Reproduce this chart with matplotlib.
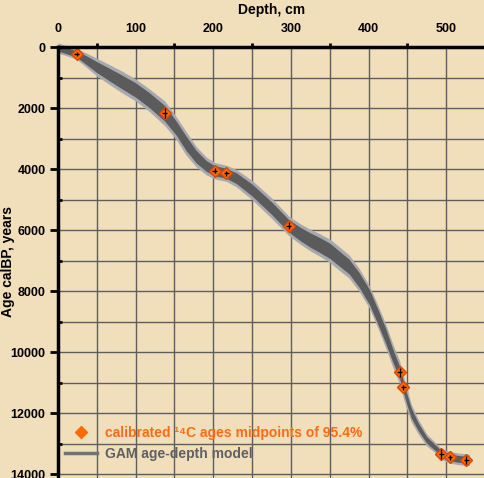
import numpy as np
import matplotlib
matplotlib.use("Agg")
from matplotlib import pyplot as plt
from matplotlib.lines import Line2D

plt.rcParams['font.family'] = ['Liberation Sans', 'DejaVu Sans']
plt.rcParams['font.weight'] = 'bold'

BG = '#f1debb'

# GAM age-depth model
model_depth = [0, 12, 24, 37, 50, 66, 82, 100, 118, 137.5, 152.5, 165, 178, 191, 201.8,
               217, 230, 250, 275, 297, 312, 325, 337, 350, 362, 375, 388, 401, 412,
               422.5, 431, 440, 445, 450, 455, 464, 475, 487, 494, 500, 505, 515, 527, 530]
model_age = [33, 130, 230, 440, 660, 900, 1140, 1410, 1750, 2175, 2667, 3158, 3595, 3900, 4056,
             4142, 4305, 4690, 5280, 5858, 6130, 6330, 6490, 6680, 6930, 7200, 7640, 8190, 8840,
             9500, 10100, 10667, 11158, 11600, 12000, 12450, 12885, 13160, 13344, 13410, 13453,
             13500, 13530, 13535]
band_inner = [100, 100, 105, 145, 180, 205, 225, 235, 245, 255, 230, 235, 205, 175, 165,
              165, 175, 195, 205, 205, 220, 235, 245, 250, 245, 240, 240, 245, 245,
              245, 215, 195, 185, 175, 160, 125, 105, 95, 100, 110, 110, 110, 110, 100]
band_outer = [170, 165, 170, 235, 290, 325, 355, 360, 370, 405, 375, 385, 335, 290, 270,
              265, 285, 315, 335, 320, 335, 355, 370, 385, 385, 380, 375, 365, 375,
              390, 380, 375, 370, 340, 290, 240, 195, 165, 175, 190, 190, 190, 190, 180]

# calibrated 14C ages
c14_depth = [24, 137.5, 201.8, 217, 297.3, 440, 445, 493.6, 505, 526]
c14_age = [230, 2164, 4056, 4142, 5858, 10667, 11158, 13344, 13453, 13530]
c14_err = [60, 170, 80, 80, 120, 150, 80, 170, 80, 130]

fig = plt.figure(figsize=(4.85, 4.78), dpi=100)
fig.patch.set_facecolor(BG)
ax = fig.add_axes([58 / 485, 0, 1 - 58 / 485, 1 - 47 / 478])
ax.set_facecolor(BG)

d = np.array(model_depth)
a = np.array(model_age)
ax.fill_between(d, a - np.array(band_outer), a + np.array(band_outer),
                color='#a6aab0', lw=0, clip_on=False, zorder=3)
ax.fill_between(d, a - np.array(band_inner), a + np.array(band_inner),
                color='#5b5b5b', lw=0, clip_on=False, zorder=4)

ax.plot(c14_depth, c14_age, 'D', ms=6, mfc='#ff6a00', mec='#d84800', mew=1, zorder=5)
ax.errorbar(c14_depth, c14_age, xerr=3, yerr=c14_err, fmt='none',
            ecolor='black', elinewidth=1, capsize=0, zorder=6)

ax.set_xlim(0, 549)
ax.set_ylim(14130, 0)
ax.xaxis.tick_top()
ax.xaxis.set_label_position('top')
ax.set_xticks(range(0, 501, 100))
ax.set_xticks(range(50, 551, 100), minor=True)
ax.set_yticks(range(0, 14001, 2000))
ax.set_yticks(range(1000, 14001, 2000), minor=True)
ax.grid(which='both', color='#5e5e5e', lw=1)
ax.set_axisbelow(True)

for s in ['bottom', 'right']:
    ax.spines[s].set_visible(False)
for s in ['left', 'top']:
    ax.spines[s].set_linewidth(2.5)
    ax.spines[s].set_zorder(7)

ax.tick_params(axis='y', which='major', direction='out', length=6, width=2, pad=3, labelsize=9)
ax.tick_params(axis='y', which='minor', direction='in', length=3, width=2)
ax.tick_params(axis='x', which='major', length=0, pad=9, labelsize=9)
ax.tick_params(axis='x', which='minor', direction='out', length=3, width=2)

ax.set_xlabel('Depth, cm', fontsize=10, fontweight='bold', labelpad=6)
fig.text(8 / 485, 0.452, 'Age calBP, years', rotation=90, ha='center', va='center',
         fontsize=10, fontweight='bold')

handles = [
    Line2D([], [], ls='none', marker='D', ms=6, mfc='#ff6a00', mec='#ff6a00'),
    Line2D([], [], color='#6f7378', lw=2.5),
]
labels = ['calibrated \u00b9\u2074C ages midpoints of 95.4%', 'GAM age-depth model']
ax.legend(handles, labels, loc='upper left', bbox_to_anchor=(0.0164, 0.121),
          frameon=False, fontsize=10, borderpad=0, borderaxespad=0,
          handlelength=2.3, handletextpad=0.6, labelspacing=0.5,
          labelcolor=['#ff6a13', '#5f6062'])

fig.savefig('out.png', dpi=100, facecolor=BG)
